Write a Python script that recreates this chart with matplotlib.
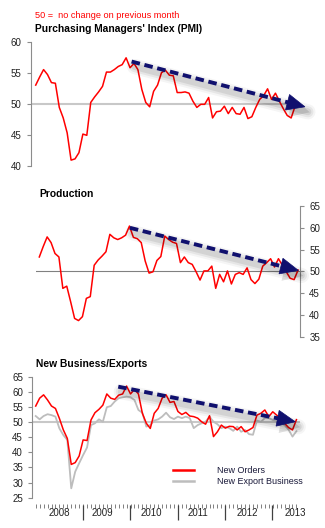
import matplotlib
matplotlib.use("Agg")
import matplotlib.pyplot as plt
import numpy as np
from matplotlib.patches import Polygon
from matplotlib.lines import Line2D
import matplotlib.transforms as mtransforms

plt.rcParams['font.family'] = ['Liberation Sans', 'DejaVu Sans']

# ---------------- data (monthly, Feb 2008 .. Aug 2013) ----------------
months = np.arange(67)
pmi = [53.0, 54.3, 55.5, 54.7, 53.4, 53.3, 49.4, 47.7, 45.3, 40.9,
       41.1, 42.1, 45.1, 44.9, 50.2, 51.1, 51.9, 52.8, 55.1, 55.1,
       55.5, 56.0, 56.3, 57.4, 55.8, 56.5, 55.5, 52.3, 50.2, 49.5,
       52.0, 53.0, 55.0, 55.4, 54.6, 54.5, 51.8, 51.8, 51.9, 51.7,
       50.4, 49.4, 49.9, 49.9, 51.0, 47.7, 48.7, 48.8, 49.6, 48.4,
       49.4, 48.4, 48.3, 49.4, 47.6, 47.9, 49.4, 50.7, 51.3, 52.4,
       50.7, 51.7, 50.4, 49.2, 48.1, 47.7, 49.6]
production = [53.3, 55.7, 57.9, 56.6, 54.1, 53.3, 46.1, 46.6, 43.0, 39.2,
              38.7, 39.6, 43.8, 44.2, 51.4, 52.6, 53.5, 54.5, 58.5, 57.7,
              57.3, 57.7, 58.3, 60.4, 57.8, 57.5, 56.6, 52.4, 49.6, 49.9,
              52.5, 53.4, 58.1, 57.3, 56.7, 56.4, 52.0, 53.3, 52.0, 51.6,
              49.9, 48.0, 50.1, 50.1, 51.2, 46.1, 49.3, 47.6, 50.1, 47.1,
              49.3, 49.7, 49.3, 50.8, 48.1, 47.2, 48.2, 51.2, 52.0, 52.9,
              51.0, 52.9, 51.4, 49.9, 48.4, 48.1, 50.3]
new_orders = [55.3, 57.9, 59.0, 57.3, 55.3, 54.5, 51.2, 47.4, 44.6, 36.0,
              36.6, 38.8, 44.1, 43.9, 50.7, 53.1, 54.2, 55.6, 59.3, 57.9,
              57.5, 58.9, 59.3, 61.9, 59.3, 60.8, 59.3, 52.9, 49.6, 47.9,
              52.9, 54.5, 57.9, 59.0, 56.5, 56.8, 53.5, 52.5, 53.2, 52.0,
              51.8, 51.3, 50.1, 49.3, 52.1, 45.2, 46.8, 49.0, 48.0, 48.6,
              48.5, 47.4, 48.5, 46.8, 47.4, 48.2, 52.3, 52.9, 54.0, 51.8,
              53.4, 52.3, 51.3, 49.6, 48.2, 47.4, 50.8]
new_export = [52.0, 50.9, 52.0, 52.6, 52.3, 51.8, 47.9, 45.7, 44.1, 28.1,
              33.6, 36.4, 39.1, 41.6, 49.0, 49.6, 50.9, 50.1, 54.9, 55.3,
              56.8, 57.9, 58.2, 58.4, 58.2, 57.3, 54.0, 53.1, 48.5, 49.0,
              50.5, 50.9, 51.8, 53.1, 51.6, 51.0, 51.8, 51.3, 51.8, 51.3,
              48.0, 49.0, 49.6, 50.1, 51.8, 50.1, 49.3, 48.0, 48.5, 48.0,
              47.1, 48.5, 46.8, 47.4, 46.0, 45.8, 50.5, 50.1, 51.3, 51.3,
              50.7, 50.2, 49.6, 49.0, 47.5, 45.2, 47.0]
years = ['2008', '2009', '2010', '2011', '2012', '2013']
series_labels = ['New Orders', 'New Export Business']

# ---------------- layout helpers ----------------
W, H = 325, 528
fig = plt.figure(figsize=(W / 100, H / 100), dpi=100)
fig.patch.set_facecolor('white')


def px_axes(left, right, top, bottom):
    return fig.add_axes([left / W, 1 - bottom / H, (right - left) / W, (bottom - top) / H])


RED = '#ff0000'
NAVY = '#10106e'
SPINE = '#8c8c8c'
TXT = '#222222'


def style_axis(ax, side):
    for s in ['top', 'right', 'bottom', 'left']:
        ax.spines[s].set_visible(False)
    ax.spines[side].set_visible(True)
    ax.spines[side].set_color(SPINE)
    ax.spines[side].set_linewidth(0.8)
    ax.set_xticks([])
    ax.tick_params(axis='y', length=3.2, width=0.8, color=SPINE, pad=3.5,
                   labelsize=7, labelcolor=TXT)
    ax.patch.set_visible(False)


IDT = mtransforms.IdentityTransform()


def trend_arrow(ax, start, tip, head_len=18, head_half=8):
    p0 = ax.transData.transform(start)
    p1 = ax.transData.transform(tip)
    d = p1 - p0
    u = d / np.hypot(*d)
    n = np.array([-u[1], u[0]])
    base = p1 - head_len * u
    # soft shadow (shaft + head), offset down-right
    off = np.array([3, -5])
    for lw, a in [(11, 0.04), (8, 0.06), (5, 0.08)]:
        fig.add_artist(Line2D([p0[0] + off[0], p1[0] + off[0]], [p0[1] + off[1], p1[1] + off[1]],
                              transform=IDT, color='black', alpha=a, lw=lw,
                              solid_capstyle='round', zorder=4))
    sh = np.array([p1 + off + 2 * u, base + off + (head_half + 2) * n, base + off - (head_half + 2) * n])
    fig.add_artist(Polygon(sh, closed=True, transform=IDT, facecolor='black', alpha=0.12,
                           edgecolor='none', zorder=4))
    # dashed shaft
    fig.add_artist(Line2D([p0[0], base[0] + 2 * u[0]], [p0[1], base[1] + 2 * u[1]],
                          transform=IDT, color=NAVY, lw=2.8, linestyle=(0, (2.2, 1.2)),
                          solid_capstyle='butt', dash_capstyle='butt', zorder=6))
    # head
    tri = np.array([p1, base + head_half * n, base - head_half * n])
    fig.add_artist(Polygon(tri, closed=True, transform=IDT, facecolor=NAVY,
                           edgecolor=NAVY, lw=0.5, zorder=7))


# ---------------- panel 1 : PMI ----------------
ax1 = px_axes(31, 300, 41.7, 165.7)
ax1.axhline(50, color='#c8c8c8', lw=1.5, zorder=1)
ax1.plot(months, pmi, color=RED, lw=1.1, zorder=3)
ax1.set_xlim(-1.2, 67.25)
ax1.set_ylim(40, 60)
ax1.set_yticks([40, 45, 50, 55, 60])
style_axis(ax1, 'left')

fig.text(35 / W, 1 - 15.7 / H, '50 =  no change on previous month', color=RED,
         fontsize=6.6, va='center', ha='left')
fig.text(35 / W, 1 - 29 / H, "Purchasing Managers' Index (PMI)", color='black',
         fontsize=7.4, fontweight='bold', va='center', ha='left')

# ---------------- panel 2 : Production ----------------
ax2 = px_axes(35.7, 300, 206, 336.7)
ax2.axhline(50, color='#808080', lw=0.8, zorder=1)
ax2.plot(months, production, color=RED, lw=1.1, zorder=3)
ax2.set_xlim(-0.92, 66.5)
ax2.set_ylim(35, 65)
ax2.set_yticks([35, 40, 45, 50, 55, 60, 65])
style_axis(ax2, 'right')
ax2.yaxis.tick_right()
ax2.tick_params(axis='y', length=3.2, width=0.8, color=SPINE, pad=3.5,
                labelsize=7, labelcolor=TXT)

fig.text(39 / W, 1 - 194 / H, 'Production', color='black',
         fontsize=7.4, fontweight='bold', va='center', ha='left')

# ---------------- panel 3 : New Business / Exports ----------------
ax3 = px_axes(32.3, 300, 376.7, 497.7)
ax3.axhline(50, color='#c8c8c8', lw=1.5, zorder=1)
l_exp, = ax3.plot(months, new_export, color='#bdbdbd', lw=1.3, zorder=2)
l_ord, = ax3.plot(months, new_orders, color=RED, lw=1.1, zorder=3)
ax3.set_xlim(-0.86, 66.9)
ax3.set_ylim(25, 65)
ax3.set_yticks([25, 30, 35, 40, 45, 50, 55, 60, 65])
style_axis(ax3, 'left')

fig.text(36 / W, 1 - 364 / H, 'New Business/Exports', color='black',
         fontsize=7.4, fontweight='bold', va='center', ha='left')

# month ticks and year separators below panel 3
xtr = ax3.get_xaxis_transform()
ax3.vlines(months, -0.050, -0.086, transform=xtr, colors='#6a6a6a', lw=0.6, clip_on=False)
year_bounds = [12 * j - 0.1 for j in range(1, len(years))]
ax3.vlines(year_bounds, -0.060, -0.185, transform=xtr, colors='#404040', lw=0.9, clip_on=False)
year_label_pos = [6.0, 17.0, 29.3, 41.0, 53.5, 65.6]
for yl, xp in zip(years, year_label_pos):
    ax3.text(xp, -0.125, yl, transform=xtr, ha='center', va='center',
             fontsize=7, color=TXT, clip_on=False)

leg = ax3.legend([l_ord, l_exp], series_labels, loc='upper left',
                 bbox_to_anchor=(0.5256, 0.262), frameon=False, fontsize=6.5,
                 handlelength=2.3, handletextpad=2.6, borderpad=0,
                 borderaxespad=0, labelspacing=0.2)
for ln in leg.get_lines():
    ln.set_linewidth(1.8)
for t in leg.get_texts():
    t.set_color('#1a1a3a')

# trend arrows (drawn after limits are fixed)
trend_arrow(ax1, (24.4, 56.8), (68.5, 49.5))
trend_arrow(ax2, (23.1, 60.0), (66.1, 50.2))
trend_arrow(ax3, (20.9, 61.7), (65.7, 50.1))

fig.savefig('out.png', dpi=100, facecolor='white')
